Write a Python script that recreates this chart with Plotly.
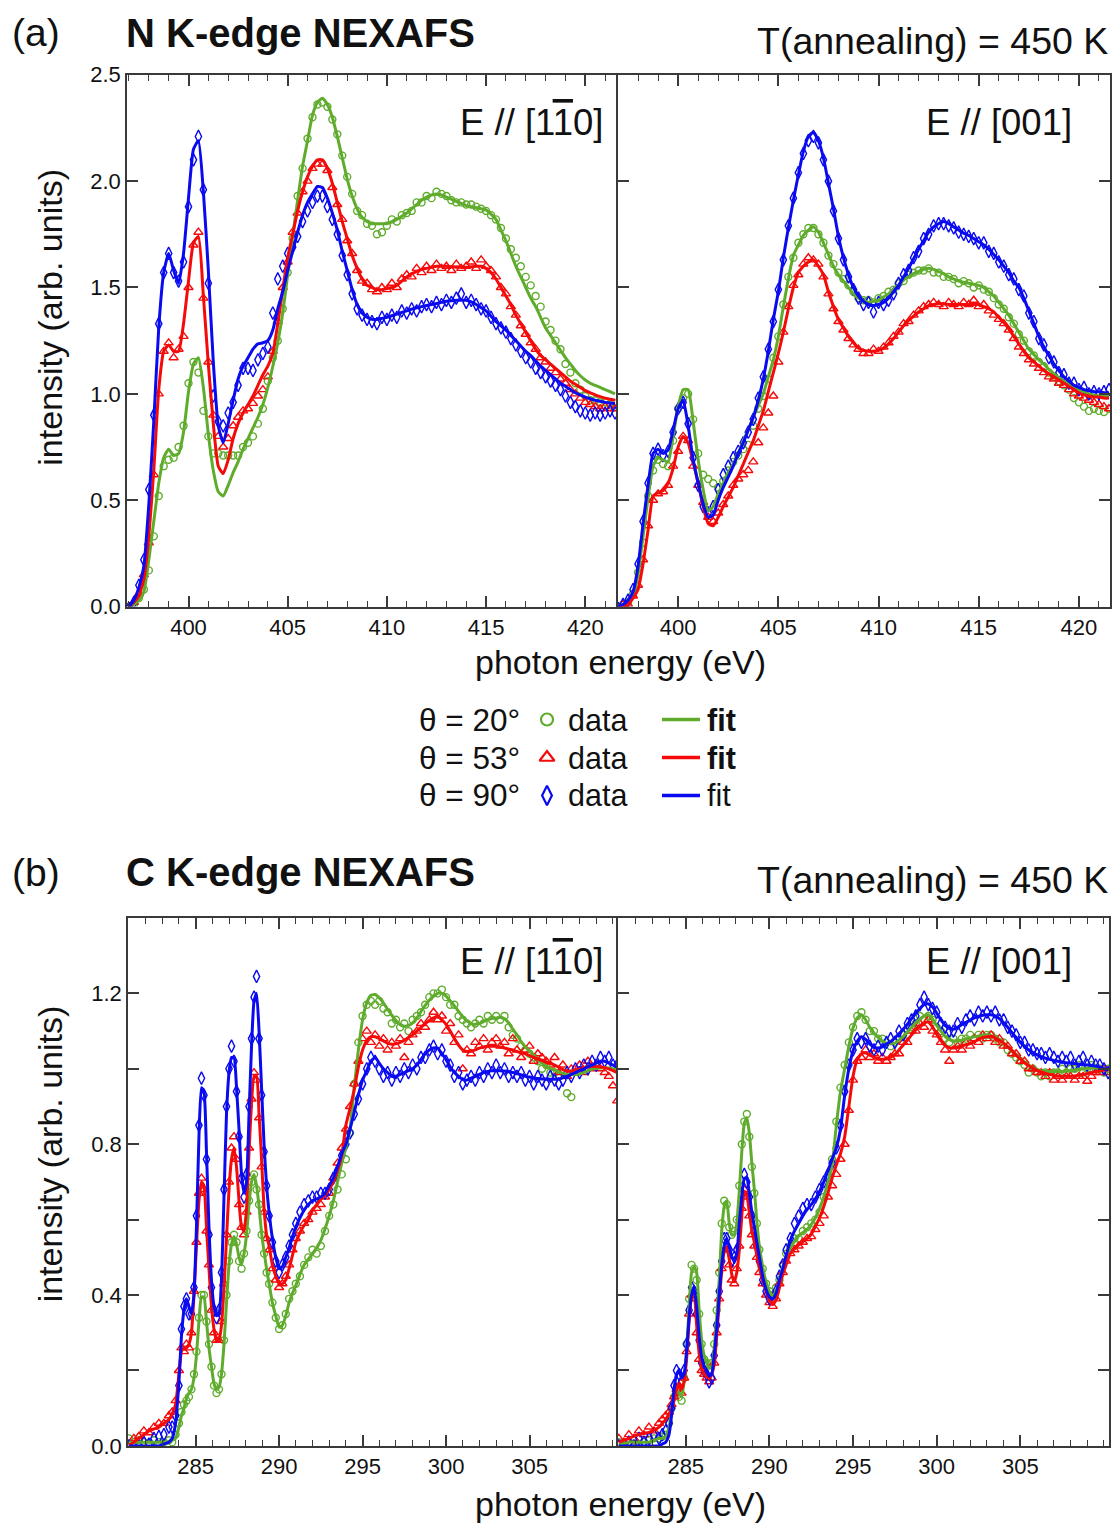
import plotly.graph_objects as go

# ---------------- data ----------------
N_E = [397.0, 397.25, 397.5, 397.75, 398.0, 398.25, 398.5, 398.75, 399.0, 399.25,
       399.5, 399.75, 400.0, 400.25, 400.5, 400.75, 401.0, 401.25, 401.5, 401.75,
       402.0, 402.25, 402.5, 402.75, 403.0, 403.25, 403.5, 403.75, 404.0, 404.25,
       404.5, 404.75, 405.0, 405.25, 405.5, 405.75, 406.0, 406.25, 406.5, 406.75,
       407.0, 407.25, 407.5, 407.75, 408.0, 408.25, 408.5, 408.75, 409.0, 409.25,
       409.5, 409.75, 410.0, 410.25, 410.5, 410.75, 411.0, 411.25, 411.5, 411.75,
       412.0, 412.25, 412.5, 412.75, 413.0, 413.25, 413.5, 413.75, 414.0, 414.25,
       414.5, 414.75, 415.0, 415.25, 415.5, 415.75, 416.0, 416.25, 416.5, 416.75,
       417.0, 417.25, 417.5, 417.75, 418.0, 418.25, 418.5, 418.75, 419.0, 419.25,
       419.5, 419.75, 420.0, 420.25, 420.5, 420.75, 421.0, 421.25, 421.5]

# N K-edge, E // [1-10]
n_a_fit_20 = [0.00, 0.01, 0.03, 0.07, 0.22, 0.40, 0.58, 0.70, 0.74, 0.71,
              0.72, 0.82, 1.01, 1.14, 1.17, 1.03, 0.81, 0.64, 0.54, 0.52,
              0.57, 0.63, 0.68, 0.74, 0.79, 0.84, 0.89, 0.95, 1.03, 1.13,
              1.24, 1.38, 1.56, 1.74, 1.91, 2.07, 2.19, 2.31, 2.37, 2.39,
              2.36, 2.30, 2.21, 2.11, 2.01, 1.93, 1.87, 1.83, 1.81, 1.80,
              1.80, 1.80, 1.80, 1.81, 1.82, 1.835, 1.85, 1.87, 1.89, 1.91,
              1.925, 1.935, 1.94, 1.935, 1.925, 1.915, 1.905, 1.895, 1.885, 1.88,
              1.875, 1.87, 1.865, 1.845, 1.82, 1.77, 1.72, 1.66, 1.60, 1.55,
              1.50, 1.45, 1.41, 1.36, 1.31, 1.275, 1.24, 1.205, 1.17, 1.14,
              1.11, 1.085, 1.065, 1.05, 1.04, 1.03, 1.02, 1.01, 1.00]
n_a_data_20 = [0.00, 0.01, 0.04, 0.08, 0.17, 0.33, 0.52, 0.66, 0.69, 0.70,
               0.75, 0.85, 1.05, 1.15, 1.10, 0.92, 0.80, 0.72, 0.72, 0.71,
               0.71, 0.71, 0.71, 0.75, 0.77, 0.80, 0.86, 0.93, 1.06, 1.17,
               1.25, 1.40, 1.57, 1.73, 1.93, 2.06, 2.20, 2.30, 2.36, 2.37,
               2.35, 2.29, 2.22, 2.12, 2.02, 1.94, 1.86, 1.84, 1.80, 1.79,
               1.75, 1.76, 1.79, 1.82, 1.81, 1.84, 1.85, 1.86, 1.90, 1.90,
               1.93, 1.92, 1.95, 1.94, 1.93, 1.91, 1.90, 1.90, 1.89, 1.89,
               1.88, 1.87, 1.86, 1.84, 1.82, 1.78, 1.73, 1.68, 1.64, 1.60,
               1.55, 1.51, 1.46, 1.41, 1.34, 1.30, 1.25, 1.21, 1.14, 1.10,
               1.05, 1.02, 0.99, 0.97, 0.97, 0.96, 0.96, 0.95, 0.955]
n_a_fit_53 = [0.00, 0.02, 0.05, 0.13, 0.33, 0.64, 1.02, 1.20, 1.23, 1.20,
              1.20, 1.33, 1.53, 1.71, 1.74, 1.46, 1.14, 0.86, 0.66, 0.625,
              0.69, 0.79, 0.86, 0.91, 0.95, 0.99, 1.04, 1.09, 1.13, 1.19,
              1.33, 1.49, 1.64, 1.75, 1.86, 1.95, 2.02, 2.07, 2.10, 2.10,
              2.06, 1.99, 1.90, 1.81, 1.73, 1.65, 1.59, 1.54, 1.51, 1.50,
              1.49, 1.49, 1.495, 1.50, 1.51, 1.53, 1.55, 1.565, 1.575, 1.585,
              1.59, 1.595, 1.60, 1.60, 1.60, 1.598, 1.595, 1.595, 1.595, 1.598,
              1.60, 1.60, 1.59, 1.57, 1.54, 1.50, 1.46, 1.42, 1.37, 1.33,
              1.29, 1.25, 1.21, 1.18, 1.16, 1.14, 1.12, 1.10, 1.08, 1.06,
              1.045, 1.03, 1.015, 1.005, 0.995, 0.987, 0.98, 0.975, 0.97]
n_a_data_53 = [0.00, 0.02, 0.06, 0.15, 0.30, 0.62, 1.00, 1.20, 1.24, 1.17,
               1.21, 1.27, 1.50, 1.70, 1.76, 1.45, 1.15, 0.90, 0.80, 0.75,
               0.79, 0.85, 0.89, 0.92, 0.93, 0.955, 0.99, 1.02, 1.08, 1.20,
               1.34, 1.50, 1.62, 1.76, 1.85, 1.95, 2.00, 2.06, 2.08, 2.08,
               2.05, 1.97, 1.89, 1.82, 1.72, 1.66, 1.58, 1.53, 1.52, 1.49,
               1.48, 1.50, 1.49, 1.52, 1.50, 1.54, 1.56, 1.55, 1.59, 1.57,
               1.60, 1.58, 1.61, 1.59, 1.60, 1.58, 1.61, 1.59, 1.60, 1.62,
               1.59, 1.63, 1.60, 1.58, 1.55, 1.50, 1.47, 1.41, 1.37, 1.32,
               1.28, 1.24, 1.21, 1.17, 1.15, 1.12, 1.10, 1.07, 1.05, 1.02,
               1.00, 0.98, 0.96, 0.95, 0.94, 0.93, 0.94, 0.93, 0.93]
n_a_fit_90 = [0.00, 0.03, 0.09, 0.19, 0.48, 0.87, 1.31, 1.57, 1.66, 1.58,
              1.52, 1.66, 1.92, 2.15, 2.19, 1.95, 1.58, 1.15, 0.85, 0.77,
              0.86, 0.97, 1.07, 1.13, 1.17, 1.21, 1.235, 1.24, 1.25, 1.30,
              1.40, 1.48, 1.58, 1.67, 1.76, 1.84, 1.90, 1.94, 1.975, 1.97,
              1.92, 1.85, 1.77, 1.67, 1.58, 1.49, 1.42, 1.38, 1.36, 1.35,
              1.35, 1.355, 1.36, 1.367, 1.375, 1.383, 1.39, 1.398, 1.405, 1.41,
              1.415, 1.42, 1.425, 1.43, 1.435, 1.438, 1.44, 1.44, 1.44, 1.432,
              1.42, 1.405, 1.39, 1.365, 1.34, 1.32, 1.30, 1.275, 1.25, 1.225,
              1.20, 1.18, 1.155, 1.13, 1.11, 1.09, 1.07, 1.05, 1.035, 1.02,
              1.005, 0.995, 0.985, 0.977, 0.97, 0.965, 0.96, 0.957, 0.955]
n_a_data_90 = [-0.01, 0.02, 0.10, 0.22, 0.55, 0.90, 1.33, 1.57, 1.66, 1.57,
               1.53, 1.62, 1.88, 2.10, 2.21, 1.96, 1.52, 0.99, 0.87, 0.85,
               0.91, 0.96, 1.04, 1.12, 1.12, 1.11, 1.16, 1.19, 1.22, 1.38,
               1.54, 1.60, 1.66, 1.69, 1.74, 1.81, 1.86, 1.90, 1.93, 1.93,
               1.88, 1.82, 1.75, 1.65, 1.56, 1.47, 1.40, 1.37, 1.35, 1.34,
               1.33, 1.36, 1.35, 1.37, 1.36, 1.39, 1.38, 1.40, 1.39, 1.41,
               1.42, 1.41, 1.43, 1.42, 1.44, 1.43, 1.45, 1.47, 1.43, 1.44,
               1.42, 1.40, 1.39, 1.36, 1.33, 1.31, 1.29, 1.26, 1.23, 1.20,
               1.17, 1.15, 1.12, 1.10, 1.08, 1.06, 1.04, 1.02, 0.99, 0.96,
               0.94, 0.92, 0.91, 0.90, 0.91, 0.90, 0.91, 0.92, 0.91]

# N K-edge, E // [001]
n_b_fit_20 = [0.00, 0.005, 0.02, 0.05, 0.15, 0.33, 0.51, 0.66, 0.70, 0.69,
              0.68, 0.80, 0.94, 1.02, 1.02, 0.87, 0.69, 0.55, 0.45, 0.47,
              0.53, 0.58, 0.63, 0.67, 0.72, 0.78, 0.83, 0.89, 0.945, 1.00,
              1.08, 1.16, 1.27, 1.41, 1.54, 1.65, 1.70, 1.745, 1.77, 1.785,
              1.76, 1.71, 1.655, 1.60, 1.56, 1.53, 1.50, 1.47, 1.45, 1.44,
              1.43, 1.435, 1.44, 1.455, 1.47, 1.49, 1.51, 1.535, 1.55, 1.565,
              1.575, 1.585, 1.59, 1.585, 1.575, 1.565, 1.55, 1.54, 1.53, 1.525,
              1.52, 1.515, 1.51, 1.50, 1.48, 1.46, 1.43, 1.40, 1.37, 1.33,
              1.29, 1.25, 1.21, 1.185, 1.16, 1.14, 1.115, 1.095, 1.075, 1.06,
              1.045, 1.03, 1.02, 1.01, 1.00, 0.995, 0.99, 0.99, 0.99]
n_b_data_20 = [0.00, 0.01, 0.02, 0.06, 0.16, 0.30, 0.52, 0.64, 0.69, 0.67,
               0.66, 0.78, 0.93, 0.98, 1.00, 0.88, 0.72, 0.62, 0.60, 0.58,
               0.56, 0.59, 0.64, 0.68, 0.71, 0.74, 0.76, 0.85, 0.93, 0.99,
               1.07, 1.17, 1.27, 1.42, 1.55, 1.64, 1.71, 1.75, 1.78, 1.78,
               1.75, 1.71, 1.65, 1.61, 1.57, 1.54, 1.51, 1.48, 1.45, 1.44,
               1.44, 1.43, 1.45, 1.46, 1.48, 1.49, 1.52, 1.53, 1.56, 1.57,
               1.58, 1.58, 1.59, 1.57, 1.57, 1.55, 1.55, 1.54, 1.52, 1.53,
               1.52, 1.50, 1.51, 1.49, 1.48, 1.45, 1.42, 1.40, 1.36, 1.33,
               1.28, 1.25, 1.20, 1.18, 1.15, 1.13, 1.10, 1.08, 1.06, 1.04,
               1.02, 0.98, 0.96, 0.94, 0.92, 0.93, 0.92, 0.915, 0.93]
n_b_fit_53 = [0.00, 0.00, 0.01, 0.04, 0.08, 0.20, 0.36, 0.52, 0.535, 0.545,
              0.58, 0.65, 0.75, 0.80, 0.77, 0.68, 0.58, 0.47, 0.39, 0.38,
              0.42, 0.47, 0.515, 0.56, 0.615, 0.67, 0.725, 0.78, 0.85, 0.92,
              1.01, 1.10, 1.19, 1.29, 1.40, 1.50, 1.57, 1.60, 1.62, 1.63,
              1.60, 1.56, 1.48, 1.41, 1.35, 1.31, 1.27, 1.24, 1.215, 1.205,
              1.20, 1.20, 1.205, 1.215, 1.235, 1.26, 1.29, 1.32, 1.345, 1.365,
              1.385, 1.40, 1.415, 1.42, 1.425, 1.423, 1.42, 1.42, 1.42, 1.42,
              1.42, 1.42, 1.42, 1.41, 1.40, 1.385, 1.36, 1.335, 1.305, 1.27,
              1.235, 1.20, 1.17, 1.15, 1.13, 1.11, 1.095, 1.08, 1.065, 1.05,
              1.035, 1.02, 1.005, 0.995, 0.99, 0.985, 0.985, 0.98, 0.98]
n_b_data_53 = [0.00, 0.01, 0.01, 0.05, 0.10, 0.22, 0.38, 0.50, 0.53, 0.54,
               0.57, 0.66, 0.73, 0.80, 0.78, 0.66, 0.57, 0.49, 0.42, 0.40,
               0.44, 0.48, 0.52, 0.57, 0.60, 0.62, 0.64, 0.68, 0.77, 0.84,
               0.91, 0.99, 1.15, 1.29, 1.41, 1.51, 1.56, 1.61, 1.64, 1.63,
               1.61, 1.55, 1.47, 1.40, 1.34, 1.30, 1.26, 1.23, 1.21, 1.19,
               1.19, 1.21, 1.20, 1.22, 1.24, 1.27, 1.29, 1.33, 1.34, 1.37,
               1.39, 1.41, 1.42, 1.43, 1.42, 1.41, 1.43, 1.42, 1.41, 1.43,
               1.42, 1.44, 1.41, 1.42, 1.39, 1.37, 1.35, 1.33, 1.30, 1.26,
               1.22, 1.19, 1.16, 1.14, 1.12, 1.10, 1.08, 1.07, 1.05, 1.04,
               1.02, 1.00, 0.99, 0.98, 0.97, 0.96, 0.95, 0.94, 0.93]
n_b_fit_90 = [0.00, 0.01, 0.03, 0.07, 0.19, 0.39, 0.57, 0.72, 0.74, 0.72,
              0.735, 0.83, 0.93, 0.97, 0.85, 0.69, 0.58, 0.48, 0.42, 0.43,
              0.50, 0.56, 0.61, 0.66, 0.72, 0.77, 0.83, 0.89, 0.97, 1.07,
              1.20, 1.35, 1.48, 1.64, 1.78, 1.91, 2.03, 2.14, 2.21, 2.23,
              2.19, 2.11, 1.99, 1.87, 1.74, 1.64, 1.56, 1.50, 1.46, 1.435,
              1.42, 1.415, 1.42, 1.43, 1.45, 1.48, 1.51, 1.55, 1.59, 1.635,
              1.68, 1.72, 1.76, 1.785, 1.80, 1.81, 1.80, 1.785, 1.77, 1.755,
              1.745, 1.73, 1.715, 1.70, 1.68, 1.655, 1.63, 1.60, 1.57, 1.53,
              1.50, 1.45, 1.39, 1.33, 1.27, 1.22, 1.18, 1.14, 1.11, 1.08,
              1.06, 1.04, 1.03, 1.02, 1.015, 1.01, 1.01, 1.005, 1.005]
n_b_data_90 = [-0.01, 0.01, 0.03, 0.08, 0.20, 0.40, 0.58, 0.72, 0.74, 0.71,
               0.73, 0.82, 0.93, 0.96, 0.86, 0.70, 0.57, 0.47, 0.44, 0.47,
               0.55, 0.62, 0.66, 0.70, 0.73, 0.77, 0.82, 0.88, 0.98, 1.08,
               1.21, 1.34, 1.49, 1.63, 1.79, 1.92, 2.04, 2.13, 2.19, 2.21,
               2.18, 2.10, 2.00, 1.86, 1.73, 1.63, 1.55, 1.49, 1.45, 1.42,
               1.43, 1.385, 1.43, 1.42, 1.44, 1.47, 1.52, 1.56, 1.58, 1.64,
               1.67, 1.73, 1.75, 1.79, 1.80, 1.80, 1.79, 1.78, 1.76, 1.75,
               1.74, 1.73, 1.71, 1.71, 1.67, 1.66, 1.62, 1.60, 1.56, 1.54,
               1.49, 1.46, 1.38, 1.34, 1.26, 1.23, 1.17, 1.15, 1.10, 1.09,
               1.05, 1.05, 1.02, 1.03, 1.00, 1.01, 1.00, 1.01, 1.02]

C_E = [281.0, 281.3, 281.6, 281.9, 282.2, 282.5, 282.8, 283.1, 283.4, 283.6,
       283.8, 284.0, 284.15, 284.3, 284.45, 284.6, 284.75, 284.9, 285.05, 285.2,
       285.35, 285.5, 285.65, 285.8, 285.95, 286.1, 286.25, 286.4, 286.55, 286.7,
       286.85, 287.0, 287.15, 287.3, 287.45, 287.6, 287.75, 287.9, 288.05, 288.2,
       288.35, 288.5, 288.65, 288.8, 288.95, 289.1, 289.25, 289.4, 289.6, 289.8,
       290.0, 290.2, 290.4, 290.6, 290.8, 291.0, 291.25, 291.5, 291.75, 292.0,
       292.25, 292.5, 292.75, 293.0, 293.25, 293.5, 293.75, 294.0, 294.25, 294.5,
       294.75, 295.0, 295.25, 295.5, 295.75, 296.0, 296.25, 296.5, 296.75, 297.0,
       297.25, 297.5, 297.75, 298.0, 298.25, 298.5, 298.75, 299.0, 299.25, 299.5,
       299.75, 300.0, 300.25, 300.5, 300.75, 301.0, 301.25, 301.5, 301.75, 302.0,
       302.25, 302.5, 302.75, 303.0, 303.25, 303.5, 303.75, 304.0, 304.25, 304.5,
       304.75, 305.0, 305.25, 305.5, 305.75, 306.0, 306.25, 306.5, 306.75, 307.0,
       307.25, 307.5, 307.75, 308.0, 308.25, 308.5, 308.75, 309.0, 309.25, 309.5,
       309.75, 310.0, 310.25]

# C K-edge, E // [1-10]
c_a_fit_20 = [0.01, 0.01, 0.01, 0.01, 0.01, 0.01, 0.01, 0.01, 0.012, 0.015,
              0.02, 0.05, 0.08, 0.10, 0.125, 0.14, 0.15, 0.18, 0.24, 0.33,
              0.395, 0.395, 0.33, 0.26, 0.21, 0.165, 0.15, 0.155, 0.19, 0.27,
              0.38, 0.48, 0.535, 0.555, 0.535, 0.50, 0.48, 0.51, 0.56, 0.64,
              0.70, 0.72, 0.69, 0.635, 0.565, 0.515, 0.47, 0.43, 0.38, 0.345,
              0.315, 0.32, 0.345, 0.38, 0.405, 0.425, 0.455, 0.48, 0.495, 0.51,
              0.525, 0.545, 0.575, 0.61, 0.65, 0.70, 0.75, 0.79, 0.84, 0.95,
              1.05, 1.13, 1.175, 1.195, 1.197, 1.188, 1.175, 1.158, 1.142, 1.128,
              1.117, 1.113, 1.115, 1.122, 1.135, 1.152, 1.168, 1.182, 1.193, 1.20,
              1.20, 1.193, 1.18, 1.167, 1.152, 1.138, 1.127, 1.12, 1.118, 1.12,
              1.125, 1.13, 1.133, 1.135, 1.136, 1.133, 1.122, 1.105, 1.09, 1.072,
              1.058, 1.047, 1.035, 1.024, 1.015, 1.008, 1.001, 0.997, 0.992, 0.988,
              0.985, 0.985, 0.985, 0.986, 0.99, 0.995, 0.999, 1.001, 1.002, 1.003,
              1.002, 1.0, 0.999]
c_a_data_20 = [0.02, 0.01, 0.015, 0.01, 0.005, 0.015, 0.01, 0.01, 0.015, 0.01,
               0.03, 0.06, 0.09, 0.11, 0.12, 0.13, 0.15, 0.19, 0.25, 0.34,
               0.40, 0.40, 0.33, 0.27, 0.21, 0.16, 0.14, 0.15, 0.19, 0.28,
               0.40, 0.49, 0.54, 0.56, 0.54, 0.49, 0.47, 0.51, 0.57, 0.65,
               0.70, 0.72, 0.68, 0.64, 0.56, 0.51, 0.46, 0.43, 0.38, 0.34,
               0.31, 0.32, 0.35, 0.39, 0.41, 0.43, 0.45, 0.48, 0.50, 0.52,
               0.51, 0.53, 0.57, 0.61, 0.64, 0.68, 0.72, 0.76, 0.83, 0.96,
               1.07, 1.14, 1.17, 1.18, 1.17, 1.18, 1.16, 1.15, 1.12, 1.13,
               1.11, 1.12, 1.10, 1.13, 1.14, 1.15, 1.17, 1.19, 1.20, 1.20,
               1.21, 1.19, 1.17, 1.17, 1.14, 1.13, 1.12, 1.11, 1.12, 1.13,
               1.12, 1.14, 1.13, 1.14, 1.13, 1.14, 1.11, 1.09, 1.08, 1.06,
               1.05, 1.04, 1.03, 1.02, 1.00, 1.01, 0.99, 0.99, 0.98, 0.99,
               0.935, 0.925, None, None, None, None, None, None, None, None,
               None, None, None]
c_a_fit_53 = [0.0, 0.01, 0.02, 0.03, 0.04, 0.045, 0.05, 0.06, 0.07, 0.085,
              0.11, 0.19, 0.25, 0.26, 0.26, 0.27, 0.30, 0.40, 0.53, 0.65,
              0.70, 0.69, 0.58, 0.47, 0.37, 0.31, 0.28, 0.28, 0.32, 0.42,
              0.55, 0.68, 0.76, 0.79, 0.74, 0.65, 0.58, 0.57, 0.63, 0.78,
              0.91, 0.98, 0.98, 0.88, 0.76, 0.63, 0.56, 0.53, 0.48, 0.45,
              0.43, 0.43, 0.44, 0.47, 0.505, 0.54, 0.565, 0.585, 0.60, 0.625,
              0.64, 0.655, 0.665, 0.68, 0.70, 0.73, 0.77, 0.85, 0.895, 0.945,
              1.005, 1.05, 1.075, 1.085, 1.085, 1.08, 1.074, 1.068, 1.065, 1.066,
              1.07, 1.076, 1.083, 1.09, 1.10, 1.11, 1.12, 1.128, 1.135, 1.14,
              1.13, 1.118, 1.10, 1.08, 1.063, 1.05, 1.046, 1.047, 1.05, 1.055,
              1.058, 1.06, 1.06, 1.06, 1.058, 1.055, 1.052, 1.05, 1.046, 1.042,
              1.04, 1.035, 1.03, 1.026, 1.022, 1.018, 1.014, 1.01, 1.004, 0.998,
              0.994, 0.994, 0.997, 0.999, 1.003, 1.006, 1.007, 1.006, 1.005, 1.003,
              1.0, 0.995, 0.99]
c_a_data_53 = [0.0, 0.02, 0.025, 0.04, 0.035, 0.05, 0.06, 0.06, 0.08, 0.09,
               0.12, 0.20, 0.26, 0.25, 0.27, 0.26, 0.30, 0.41, 0.54, 0.67,
               0.71, 0.68, 0.57, 0.48, 0.36, 0.30, 0.28, 0.28, 0.33, 0.43,
               0.56, 0.70, 0.79, 0.82, 0.76, 0.64, 0.58, 0.56, 0.62, 0.79,
               0.92, 0.99, 0.97, 0.87, 0.74, 0.62, 0.55, 0.52, 0.47, 0.44,
               0.42, 0.43, 0.45, 0.48, 0.52, 0.55, 0.57, 0.59, 0.60, 0.62,
               0.63, 0.64, 0.66, 0.67, 0.71, 0.75, 0.79, 0.84, 0.90, 0.96,
               1.02, 1.08, 1.10, 1.07, 1.09, 1.06, 1.08, 1.05, 1.07, 1.06,
               1.08, 1.03, 1.07, 1.09, 1.10, 1.12, 1.11, 1.13, 1.15, 1.13,
               1.14, 1.10, 1.12, 1.07, 1.09, 1.00, 1.05, 1.04, 1.07, 1.06,
               1.08, 1.05, 1.07, 1.08, 1.06, 1.07, 1.04, 1.08, 1.05, 1.03,
               1.05, 1.06, 1.02, 1.04, 1.03, 1.02, 1.01, 1.03, 0.99, 1.01,
               0.98, 1.00, 0.99, 1.01, 0.99, 1.02, 1.00, 1.01, 1.00, 0.99,
               0.98, 0.955, 0.915]
c_a_fit_90 = [0.0, 0.0, 0.0, 0.0, 0.0, 0.0, 0.0, 0.005, 0.01, 0.02,
              0.06, 0.17, 0.29, 0.36, 0.39, 0.37, 0.35, 0.40, 0.58, 0.82,
              0.95, 0.94, 0.78, 0.58, 0.44, 0.37, 0.345, 0.35, 0.44, 0.66,
              0.88, 0.99, 1.03, 1.03, 0.95, 0.84, 0.72, 0.67, 0.70, 0.88,
              1.06, 1.18, 1.20, 1.10, 0.95, 0.80, 0.69, 0.62, 0.55, 0.50,
              0.47, 0.475, 0.50, 0.525, 0.555, 0.58, 0.605, 0.625, 0.64, 0.65,
              0.655, 0.66, 0.67, 0.69, 0.71, 0.74, 0.775, 0.80, 0.84, 0.885,
              0.93, 0.97, 0.995, 1.02, 1.03, 1.015, 1.0, 0.99, 0.98, 0.98,
              0.985, 0.99, 0.995, 1.0, 1.01, 1.025, 1.04, 1.05, 1.055, 1.055,
              1.04, 1.025, 1.005, 0.99, 0.98, 0.972, 0.97, 0.975, 0.98, 0.985,
              0.99, 0.993, 0.995, 0.995, 0.995, 0.994, 0.992, 0.99, 0.987, 0.984,
              0.98, 0.978, 0.976, 0.974, 0.973, 0.972, 0.972, 0.972, 0.973, 0.976,
              0.98, 0.985, 0.99, 0.995, 1.0, 1.005, 1.01, 1.015, 1.02, 1.02,
              1.015, 1.01, 1.005]
c_a_data_90 = [0.0, -0.005, 0.0, 0.01, 0.005, 0.02, 0.025, 0.03, 0.05, 0.05,
               0.08, 0.16, 0.31, 0.37, 0.39, 0.35, 0.35, 0.42, 0.61, 0.85,
               0.975, 0.93, 0.76, 0.56, 0.42, 0.36, 0.34, 0.36, 0.46, 0.68,
               0.90, 1.00, 1.06, 1.02, 0.94, 0.82, 0.71, 0.66, 0.72, 0.90,
               1.08, 1.19, 1.245, 1.08, 0.93, 0.78, 0.69, 0.61, 0.54, 0.49,
               0.46, 0.48, 0.50, 0.53, 0.56, 0.59, 0.62, 0.64, 0.65, 0.66,
               0.66, 0.67, 0.67, 0.68, 0.71, 0.73, 0.77, 0.80, 0.83, 0.88,
               0.92, 0.96, 1.00, 1.03, 1.02, 1.00, 0.98, 0.99, 0.97, 0.99,
               0.98, 1.00, 0.99, 1.01, 1.00, 1.03, 1.03, 1.05, 1.06, 1.04,
               1.05, 1.02, 1.01, 0.98, 0.99, 0.96, 0.97, 0.98, 0.97, 0.99,
               0.98, 1.00, 0.99, 1.01, 0.99, 1.00, 0.98, 0.99, 0.98, 0.99,
               0.97, 0.98, 0.96, 0.98, 0.97, 0.96, 0.98, 0.97, 0.96, 0.97,
               0.99, 0.98, 1.00, 0.99, 1.01, 1.00, 1.02, 1.01, 1.03, 1.02,
               1.03, 1.01, 1.01]

# C K-edge, E // [001]
c_b_fit_20 = [0.005, 0.005, 0.01, 0.01, 0.01, 0.01, 0.01, 0.015, 0.02, 0.02,
              0.025, 0.05, 0.09, 0.13, 0.15, 0.14, 0.13, 0.17, 0.25, 0.37,
              0.46, 0.475, 0.46, 0.36, 0.28, 0.24, 0.22, 0.205, 0.21, 0.26,
              0.34, 0.44, 0.57, 0.635, 0.65, 0.59, 0.56, 0.56, 0.59, 0.675,
              0.78, 0.855, 0.87, 0.83, 0.75, 0.68, 0.595, 0.53, 0.475, 0.435,
              0.41, 0.397, 0.41, 0.44, 0.475, 0.50, 0.525, 0.543, 0.557, 0.566,
              0.574, 0.587, 0.605, 0.63, 0.66, 0.70, 0.745, 0.85, 0.94, 1.0,
              1.06, 1.108, 1.135, 1.143, 1.13, 1.11, 1.095, 1.083, 1.074, 1.068,
              1.067, 1.068, 1.076, 1.086, 1.098, 1.11, 1.122, 1.132, 1.14, 1.143,
              1.132, 1.115, 1.10, 1.086, 1.078, 1.074, 1.073, 1.076, 1.079, 1.082,
              1.085, 1.087, 1.089, 1.09, 1.088, 1.084, 1.078, 1.068, 1.058, 1.047,
              1.037, 1.027, 1.018, 1.01, 1.003, 0.998, 0.995, 0.994, 0.993, 0.993,
              0.993, 0.993, 0.994, 0.995, 0.997, 0.998, 1.0, 1.001, 1.002, 1.002,
              1.0, 0.998, 0.997]
c_b_data_20 = [0.01, 0.0, 0.01, 0.015, 0.005, 0.01, 0.015, 0.02, 0.02, 0.025,
               0.03, 0.06, 0.10, 0.13, 0.14, 0.13, 0.12, 0.18, 0.27, 0.39,
               0.48, 0.47, 0.44, 0.35, 0.27, 0.23, 0.22, 0.20, 0.22, 0.27,
               0.36, 0.46, 0.59, 0.65, 0.64, 0.58, 0.56, 0.57, 0.60, 0.69,
               0.80, 0.86, 0.88, 0.82, 0.74, 0.67, 0.59, 0.52, 0.47, 0.43,
               0.41, 0.40, 0.42, 0.44, 0.48, 0.51, 0.53, 0.55, 0.55, 0.57,
               0.58, 0.59, 0.60, 0.62, 0.66, 0.71, 0.76, 0.86, 0.95, 1.01,
               1.07, 1.11, 1.14, 1.15, 1.13, 1.10, 1.10, 1.08, 1.08, 1.07,
               1.06, 1.07, 1.08, 1.09, 1.09, 1.11, 1.12, 1.14, 1.13, 1.14,
               1.13, 1.11, 1.10, 1.08, 1.07, 1.08, 1.07, 1.08, 1.08, 1.09,
               1.08, 1.09, 1.08, 1.09, 1.09, 1.08, 1.07, 1.07, 1.05, 1.04,
               1.03, 1.02, 1.01, 0.99, 1.00, 0.99, 0.98, 0.99, 0.98, 0.99,
               0.99, 1.00, 0.99, 1.00, 1.00, 1.01, 0.99, 1.00, 1.01, 1.00,
               1.00, 0.99, 1.00]
c_b_fit_53 = [0.01, 0.015, 0.02, 0.026, 0.03, 0.033, 0.036, 0.042, 0.05, 0.06,
              0.07, 0.085, 0.097, 0.12, 0.15, 0.165, 0.15, 0.17, 0.23, 0.33,
              0.395, 0.40, 0.32, 0.245, 0.205, 0.19, 0.183, 0.178, 0.19, 0.215,
              0.29, 0.38, 0.465, 0.515, 0.525, 0.495, 0.455, 0.435, 0.46, 0.52,
              0.61, 0.675, 0.665, 0.62, 0.57, 0.54, 0.505, 0.47, 0.44, 0.41,
              0.385, 0.375, 0.387, 0.42, 0.455, 0.48, 0.51, 0.522, 0.533, 0.541,
              0.55, 0.561, 0.582, 0.605, 0.635, 0.67, 0.71, 0.745, 0.775, 0.82,
              0.90, 0.98, 1.025, 1.04, 1.042, 1.036, 1.031, 1.026, 1.025, 1.027,
              1.031, 1.038, 1.05, 1.063, 1.076, 1.09, 1.103, 1.114, 1.122, 1.124,
              1.111, 1.092, 1.075, 1.062, 1.056, 1.055, 1.057, 1.06, 1.064, 1.067,
              1.072, 1.078, 1.083, 1.085, 1.086, 1.082, 1.075, 1.068, 1.058, 1.048,
              1.036, 1.026, 1.016, 1.008, 1.002, 0.996, 0.992, 0.988, 0.985, 0.982,
              0.98, 0.98, 0.98, 0.98, 0.981, 0.983, 0.985, 0.987, 0.99, 0.993,
              0.995, 0.997, 0.998]
c_b_data_53 = [0.02, 0.01, 0.03, 0.02, 0.04, 0.03, 0.05, 0.04, 0.06, 0.07,
               0.08, 0.09, 0.11, 0.13, 0.15, 0.16, 0.14, 0.18, 0.25, 0.35,
               0.40, 0.39, 0.30, 0.23, 0.20, 0.19, 0.18, 0.17, 0.18, 0.22,
               0.30, 0.39, 0.47, 0.52, 0.52, 0.48, 0.44, 0.43, 0.47, 0.53,
               0.63, 0.68, 0.66, 0.61, 0.56, 0.53, 0.50, 0.46, 0.43, 0.40,
               0.38, 0.37, 0.39, 0.43, 0.46, 0.49, 0.51, 0.52, 0.53, 0.54,
               0.55, 0.555, 0.574, 0.59, 0.61, 0.66, 0.69, 0.72, 0.76, 0.80,
               0.89, 0.97, 1.02, 1.03, 1.05, 1.03, 1.04, 1.02, 1.03, 1.02,
               1.03, 1.04, 1.04, 1.07, 1.07, 1.10, 1.10, 1.12, 1.11, 1.13,
               1.10, 1.09, 1.07, 1.05, 1.02, 1.05, 1.06, 1.05, 1.07, 1.06,
               1.08, 1.07, 1.09, 1.08, 1.09, 1.07, 1.08, 1.06, 1.06, 1.04,
               1.04, 1.02, 1.02, 1.00, 1.00, 0.99, 0.99, 0.98, 0.99, 0.97,
               0.98, 0.97, 0.98, 0.98, 0.97, 0.98, 0.98, 0.967, 0.98, 0.99,
               0.99, 1.00, 0.99]
c_b_fit_90 = [0.0, 0.0, 0.0, 0.0, 0.0, 0.0, 0.0, 0.0, 0.0, 0.005,
              0.01, 0.03, 0.08, 0.15, 0.19, 0.20, 0.18, 0.19, 0.25, 0.34,
              0.40, 0.42, 0.37, 0.29, 0.235, 0.21, 0.20, 0.185, 0.19, 0.24,
              0.31, 0.40, 0.48, 0.53, 0.55, 0.53, 0.50, 0.495, 0.51, 0.59,
              0.66, 0.71, 0.71, 0.67, 0.62, 0.58, 0.54, 0.50, 0.45, 0.415,
              0.395, 0.39, 0.405, 0.44, 0.47, 0.505, 0.545, 0.57, 0.59, 0.61,
              0.627, 0.64, 0.655, 0.675, 0.70, 0.73, 0.76, 0.79, 0.84, 0.93,
              1.0, 1.048, 1.073, 1.085, 1.078, 1.066, 1.057, 1.055, 1.058, 1.066,
              1.072, 1.082, 1.093, 1.105, 1.118, 1.133, 1.147, 1.16, 1.17, 1.172,
              1.164, 1.148, 1.13, 1.115, 1.107, 1.105, 1.11, 1.117, 1.123, 1.129,
              1.135, 1.139, 1.142, 1.143, 1.143, 1.14, 1.133, 1.122, 1.11, 1.096,
              1.083, 1.07, 1.06, 1.05, 1.043, 1.037, 1.032, 1.028, 1.025, 1.022,
              1.02, 1.018, 1.016, 1.015, 1.014, 1.012, 1.011, 1.01, 1.009, 1.007,
              1.004, 1.0, 0.997]
c_b_data_90 = [0.0, -0.01, 0.01, 0.0, 0.02, 0.01, 0.02, 0.03, 0.02, 0.03,
               0.04, 0.06, 0.10, 0.16, 0.20, 0.19, 0.17, 0.20, 0.27, 0.36,
               0.42, 0.41, 0.35, 0.28, 0.22, 0.20, 0.19, 0.17, 0.18, 0.24,
               0.32, 0.41, 0.49, 0.55, 0.55, 0.52, 0.49, 0.50, 0.52, 0.60,
               0.67, 0.72, 0.70, 0.66, 0.61, 0.57, 0.53, 0.49, 0.44, 0.41,
               0.39, 0.39, 0.41, 0.45, 0.48, 0.52, 0.55, 0.59, 0.61, 0.63,
               0.64, 0.64, 0.66, 0.68, 0.70, 0.72, 0.75, 0.79, 0.85, 0.94,
               1.01, 1.05, 1.08, 1.07, 1.08, 1.06, 1.05, 1.06, 1.05, 1.07,
               1.08, 1.07, 1.10, 1.09, 1.12, 1.13, 1.14, 1.17, 1.19, 1.17,
               1.16, 1.15, 1.12, 1.11, 1.10, 1.10, 1.12, 1.11, 1.13, 1.14,
               1.13, 1.15, 1.14, 1.15, 1.14, 1.15, 1.13, 1.13, 1.11, 1.10,
               1.09, 1.07, 1.07, 1.05, 1.05, 1.04, 1.04, 1.03, 1.04, 1.03,
               1.02, 1.03, 1.02, 1.03, 1.01, 1.02, 1.03, 1.01, 1.02, 1.01,
               1.01, 1.00, 0.99]

legend_angles = ["θ = 20°", "θ = 53°", "θ = 90°"]
N_TICKS = [400, 405, 410, 415, 420]
C_TICKS = [285, 290, 295, 300, 305]

# ---------------- styling ----------------
W, H = 1115, 1524
FONT = "Liberation Sans, Arial, Helvetica, sans-serif"
AX = "#3a3a3a"
GREEN = "rgb(95,172,45)"
RED = "rgb(245,10,10)"
BLUE = "rgb(10,10,240)"
COLORS = [GREEN, RED, BLUE]
SYMBOLS = ["circle-open", "triangle-up-open", "diamond-tall-open"]
SIZES = [7, 8, 9]

# the captured page comes out slightly squeezed vertically about its middle;
# lay the figure out so that the photographed result lands on target positions
SY = 0.984
YC = H / 2.0


def px(x):
    return x / W


def py(y):
    yy = YC + (y - YC) / SY
    return 1 - yy / H


fig = go.Figure()

panels = [
    dict(xa="x", ya="y", E=N_E, data=[n_a_data_20, n_a_data_53, n_a_data_90],
         fit=[n_a_fit_20, n_a_fit_53, n_a_fit_90]),
    dict(xa="x2", ya="y2", E=N_E, data=[n_b_data_20, n_b_data_53, n_b_data_90],
         fit=[n_b_fit_20, n_b_fit_53, n_b_fit_90]),
    dict(xa="x3", ya="y3", E=C_E, data=[c_a_data_20, c_a_data_53, c_a_data_90],
         fit=[c_a_fit_20, c_a_fit_53, c_a_fit_90]),
    dict(xa="x4", ya="y4", E=C_E, data=[c_b_data_20, c_b_data_53, c_b_data_90],
         fit=[c_b_fit_20, c_b_fit_53, c_b_fit_90]),
]

for p in panels:
    for d, sym, sz, col in zip(p["data"], SYMBOLS, SIZES, COLORS):
        fig.add_trace(go.Scatter(
            x=p["E"], y=d, mode="markers", xaxis=p["xa"], yaxis=p["ya"],
            marker=dict(symbol=sym, size=sz, color=col, line=dict(color=col, width=1.4)),
            showlegend=False, hoverinfo="skip"))
    for f, col in zip(p["fit"], COLORS):
        fig.add_trace(go.Scatter(
            x=p["E"], y=f, mode="lines", xaxis=p["xa"], yaxis=p["ya"],
            line=dict(color=col, width=3, shape="spline", smoothing=0.5),
            showlegend=False, hoverinfo="skip"))

# legend key (drawn in its own pixel-scaled axis)
leg_rows = [720, 758, 796]
for i, (sym, sz, col) in enumerate(zip(SYMBOLS, SIZES, COLORS)):
    fig.add_trace(go.Scatter(
        x=[547], y=[leg_rows[i]], mode="markers", xaxis="x5", yaxis="y5",
        marker=dict(symbol=sym, size=sz + 5, color=col, line=dict(color=col, width=2.2)),
        showlegend=False, hoverinfo="skip"))
    fig.add_trace(go.Scatter(
        x=[662, 700], y=[leg_rows[i], leg_rows[i]], mode="lines", xaxis="x5", yaxis="y5",
        line=dict(color=col, width=3.5), showlegend=False, hoverinfo="skip"))

tickfont = dict(size=22, family=FONT, color="#111")


def xaxis(domain, rng, anchor, tickvals):
    return dict(domain=domain, range=rng, anchor=anchor, tickvals=tickvals,
                ticks="inside", ticklen=11, tickwidth=1.5, tickcolor=AX,
                showline=True, linewidth=1.5, linecolor=AX, mirror="ticks",
                showgrid=False, zeroline=False, tickfont=tickfont,
                minor=dict(tick0=0, dtick=1, ticks="inside", ticklen=6, tickwidth=1.3,
                           tickcolor=AX, showgrid=False))


def yaxis(domain, rng, anchor, dtick, minor_dtick, labels, mirror):
    d = dict(domain=domain, range=rng, anchor=anchor, tick0=0, dtick=dtick,
             tickformat=".1f", ticks="inside", ticklen=11, tickwidth=1.5, tickcolor=AX,
             showline=True, linewidth=1.5, linecolor=AX, mirror=mirror,
             showgrid=False, zeroline=False, tickfont=tickfont, showticklabels=labels)
    if minor_dtick:
        d["minor"] = dict(tick0=0, dtick=minor_dtick, ticks="inside", ticklen=11,
                          tickwidth=1.5, tickcolor=AX, showgrid=False)
    return d


xl = [px(127), px(618)]
xr = [px(618), px(1110)]
xl_b = [px(128), px(618)]
xr_b = [px(618), px(1109)]
yt = [py(607), py(75)]
yb = [py(1446.7), py(918.5)]

fig.update_layout(
    width=W, height=H, margin=dict(l=0, r=0, t=0, b=0),
    paper_bgcolor="white", plot_bgcolor="white", showlegend=False,
    font=dict(family=FONT, color="#111"),
    xaxis=xaxis(xl, [396.9, 421.65], "y", N_TICKS),
    yaxis=yaxis(yt, [0, 2.5], "x", 0.5, None, True, False),
    xaxis2=xaxis(xr, [397.0, 421.55], "y2", N_TICKS),
    yaxis2=yaxis(yt, [0, 2.5], "x2", 0.5, None, False, "ticks"),
    xaxis3=xaxis(xl_b, [280.95, 310.3], "y3", C_TICKS),
    yaxis3=yaxis(yb, [0, 1.4], "x3", 0.4, 0.2, True, False),
    xaxis4=xaxis(xr_b, [280.95, 310.3], "y4", C_TICKS),
    yaxis4=yaxis(yb, [0, 1.4], "x4", 0.4, 0.2, False, "ticks"),
    xaxis5=dict(domain=[px(380), px(780)], range=[380, 780], anchor="y5", visible=False, fixedrange=True),
    yaxis5=dict(domain=[py(830), py(700)], range=[830, 700], anchor="x5", visible=False, fixedrange=True),
)

ann = []


def text(x, y, s, size, xanchor="left", bold=False, angle=0):
    ann.append(dict(x=px(x), y=py(y), xref="paper", yref="paper", showarrow=False,
                    text=("<b>%s</b>" % s) if bold else s, xanchor=xanchor, yanchor="middle",
                    textangle=angle, font=dict(size=size, family=FONT, color="#111")))


OVER = '[1<span style="text-decoration:overline">1</span>0]'
for (lab, ttl, ty, ey, xt) in [("(a)", "N K-edge NEXAFS", 33, 123, 662),
                               ("(b)", "C K-edge NEXAFS", 873, 962, 1505)]:
    text(10, ty, lab, 39)
    text(124, ty, ttl, 40, bold=True)
    text(1110, ty + 8, "T(annealing) = 450 K", 37.5, xanchor="right")
    text(605, ey, "E // " + OVER, 36.5, xanchor="right")
    text(1074, ey, "E // [001]", 36.5, xanchor="right")
    text(620, xt, "photon energy (eV)", 34, xanchor="center")

text(50, 318, "intensity (arb. units)", 34, xanchor="center", angle=-90)
text(50, 1155, "intensity (arb. units)", 34, xanchor="center", angle=-90)

for i, lab in enumerate(legend_angles):
    text(417, leg_rows[i], lab, 31.5)
    text(566, leg_rows[i], "data", 30.5)
    text(705, leg_rows[i], "fit", 30.5, bold=(i < 2))

fig.update_layout(annotations=ann)

# pin the figure to the page origin so the page is exactly the figure size
POST = ("document.documentElement.style.margin='0';document.body.style.margin='0';"
        "document.documentElement.style.overflow='hidden';document.body.style.overflow='hidden';"
        "var gd=document.getElementById('{plot_id}');gd.style.position='fixed';"
        "gd.style.left='0px';gd.style.top='0px';")
fig.write_html("out.html", post_script=POST, config={"displayModeBar": False})
